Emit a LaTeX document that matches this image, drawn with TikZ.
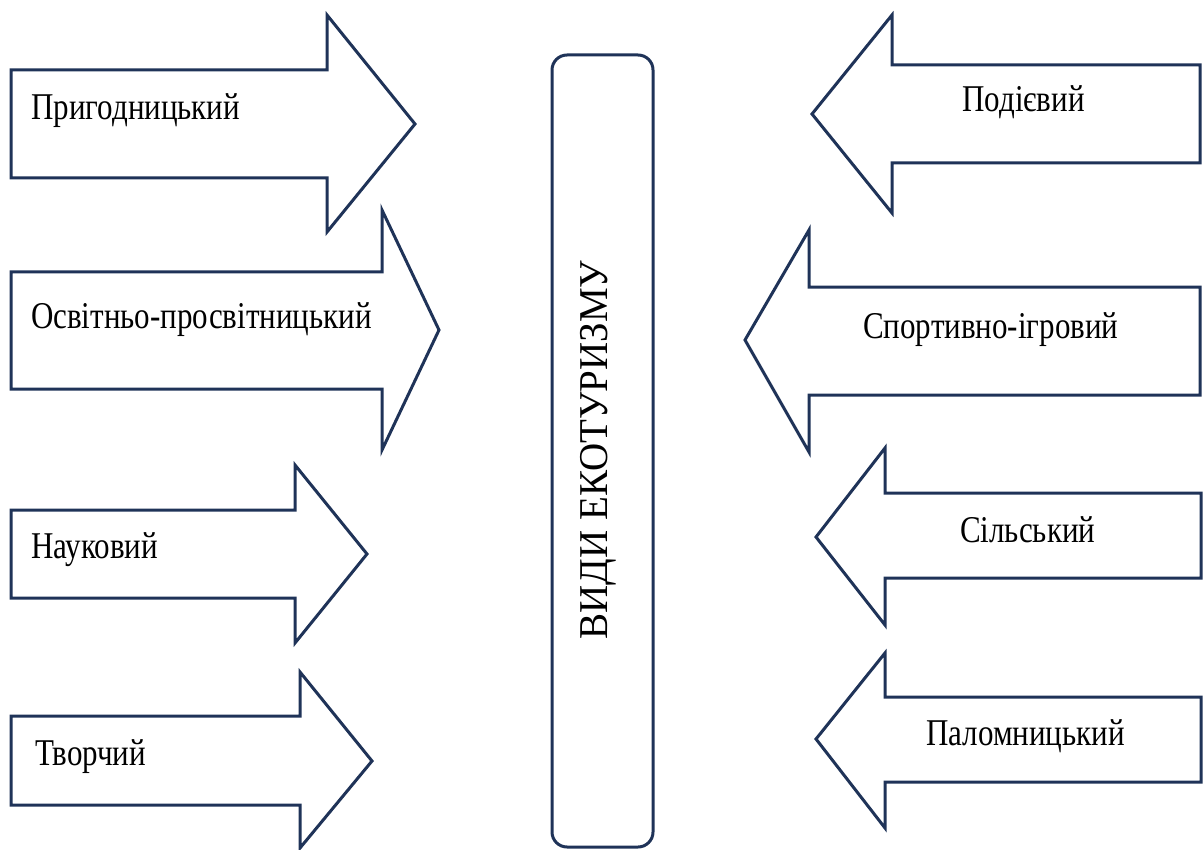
\documentclass[tikz,border=0pt]{standalone}
\usepackage{fontspec}
\setmainfont{LiberationSerif}[Extension=.ttf, UprightFont=*-Regular, BoldFont=*-Bold, ItalicFont=*-Italic, BoldItalicFont=*-BoldItalic]
\definecolor{navy}{HTML}{1F3358}
\tikzset{
  arrowshape/.style={draw=navy, line width=3pt, line join=miter, fill=white},
  lbl/.style={inner sep=0pt, anchor=base west, font=\fontsize{31}{31}\selectfont},
}
\newcommand{\stretched}[1]{\scalebox{1}[1.22]{#1}}
\begin{document}
\begin{tikzpicture}[x=1pt,y=-1pt]
\useasboundingbox (0,0) rectangle (1204,850);
% left arrows
\draw[arrowshape] (11,70)--(327,70)--(327,15)--(415,124)--(327,232)--(327,178)--(11,178)--cycle;
\draw[arrowshape] (11,272)--(382,272)--(382,210)--(439,330)--(382,450)--(382,389)--(11,389)--cycle;
\draw[arrowshape] (11,510)--(295,510)--(295,465)--(367,554)--(295,643)--(295,598)--(11,598)--cycle;
\draw[arrowshape] (11,716)--(300,716)--(300,672)--(372,761)--(300,848)--(300,805)--(11,805)--cycle;
% right arrows
\draw[arrowshape] (1200,65)--(892,65)--(892,15)--(812,114)--(892,213)--(892,163)--(1200,163)--cycle;
\draw[arrowshape] (1200,287)--(809,287)--(809,230)--(745,340)--(809,452)--(809,395)--(1200,395)--cycle;
\draw[arrowshape] (1201,493)--(885,493)--(885,448)--(816,537)--(885,625)--(885,578)--(1201,578)--cycle;
\draw[arrowshape] (1201,697)--(885,697)--(885,653)--(816,739)--(885,828)--(885,782)--(1201,782)--cycle;
% centre box
\draw[navy, line width=3pt, rounded corners=15pt] (552,55) rectangle (653,847);
\node[inner sep=0pt, anchor=base, rotate=90, font=\fontsize{39}{39}\selectfont] (centre) at (607,450) {\scalebox{1}[1.05]{ВИДИ ЕКОТУРИЗМУ}};
% labels
\node[lbl] (l1) at (31,120) {\stretched{Пригодницький}};
\node[lbl] (l2) at (31,328) {\stretched{Освітньо-просвітницький}};
\node[lbl] (l3) at (31,558) {\stretched{Науковий}};
\node[lbl] (l4) at (35,765) {\stretched{Творчий}};
\node[lbl] (r1) at (962,112) {\stretched{Подієвий}};
\node[lbl] (r2) at (863,338) {\stretched{Спортивно-ігровий}};
\node[lbl] (r3) at (960,542) {\stretched{Сільський}};
\node[lbl] (r4) at (926,745) {\stretched{Паломницький}};
\end{tikzpicture}
\end{document}
